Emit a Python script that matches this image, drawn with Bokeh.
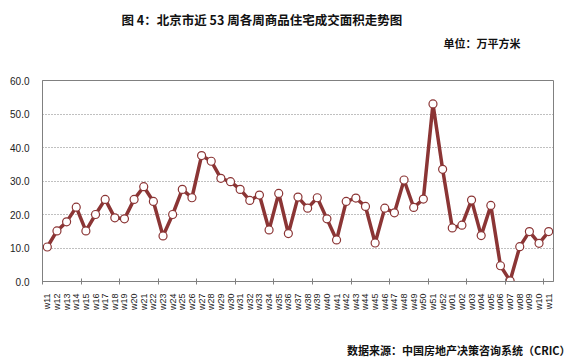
import math
from bokeh.plotting import figure
from bokeh.models import FixedTicker, Title, ColumnDataSource, Range1d, NumeralTickFormatter
from bokeh.embed import file_html
from bokeh.resources import INLINE

weeks = ["w11", "w12", "w13", "w14", "w15", "w16", "w17", "w18", "w19", "w20",
         "w21", "w22", "w23", "w24", "w25", "w26", "w27", "w28", "w29", "w30",
         "w31", "w32", "w33", "w34", "w35", "w36", "w37", "w38", "w39", "w40",
         "w41", "w42", "w43", "w44", "w45", "w46", "w47", "w48", "w49", "w50",
         "w51", "w52", "w01", "w02", "w03", "w04", "w05", "w06", "w07", "w08",
         "w09", "w10", "w11"]
area = [10.3, 15.1, 17.8, 22.2, 15.1, 20.0, 24.5, 19.0, 18.7, 24.5,
        28.3, 23.9, 13.6, 20.0, 27.5, 25.0, 37.6, 35.9, 30.8, 29.8,
        27.5, 24.2, 25.8, 15.4, 26.3, 14.3, 25.2, 21.9, 25.0, 18.7,
        12.4, 23.9, 24.9, 22.4, 11.5, 21.9, 20.5, 30.3, 22.1, 24.6,
        53.0, 33.5, 16.0, 16.8, 24.3, 13.7, 22.7, 4.7, 0.2, 10.4,
        14.9, 11.4, 14.9]
y_ticks = [0, 10, 20, 30, 40, 50, 60]

idx = list(range(len(weeks)))
src = ColumnDataSource(dict(x=idx, y=area))

font = "Noto Sans CJK SC"
p = figure(width=570, height=364, output_backend="svg", toolbar_location=None,
           x_range=Range1d(-0.5, len(weeks) - 0.5), y_range=Range1d(0, 60),
           min_border_left=42, min_border_right=17, min_border_top=0, min_border_bottom=0)
p.title.text = "图 4：北京市近 53 周各周商品住宅成交面积走势图"
p.title.align = "left"
p.title.offset = 79
p.title.standoff = 14
p.title.text_font = font
p.title.text_font_size = "12.5px"
p.title.text_font_style = "bold"
p.title.text_color = "#111111"

# spacer between frame and unit text (nearest the frame)
p.add_layout(Title(text=" ", standoff=27, text_font=font, text_font_size="2px"), "above")
p.add_layout(Title(text="单位：万平方米", align="right", offset=33,
                   standoff=-5, text_font=font, text_font_size="11px", text_font_style="bold",
                   text_color="#111111"), "above")
# spacer between x axis labels and source note
p.add_layout(Title(text=" ", standoff=14, text_font=font, text_font_size="2px"), "below")
p.add_layout(Title(text="数据来源：中国房地产决策咨询系统（CRIC）", align="right", offset=-17,
                   standoff=14, text_font=font, text_font_size="11px", text_font_style="bold",
                   text_color="#111111"), "below")

p.background_fill_color = "white"
p.border_fill_color = "white"
p.outline_line_color = "#808080"
p.outline_line_width = 1

xa = p.xaxis[0]
xa.ticker = FixedTicker(ticks=idx, minor_ticks=[i - 0.5 for i in range(0, len(weeks) + 1, 4)])
xa.major_label_overrides = {i: w for i, w in enumerate(weeks)}
xa.major_label_orientation = math.pi / 2
xa.major_tick_line_color = None
xa.major_tick_out = 0
xa.major_tick_in = 0
xa.minor_tick_line_color = "#808080"
xa.minor_tick_in = 3
xa.minor_tick_out = 3
xa.axis_line_color = "#808080"
xa.major_label_standoff = 9
xa.major_label_text_font = "Liberation Sans"
xa.major_label_text_font_size = "9px"
xa.major_label_text_color = "#222222"

ya = p.yaxis[0]
ya.ticker = FixedTicker(ticks=y_ticks)
ya.formatter = NumeralTickFormatter(format="0.0")
ya.major_tick_line_color = None
ya.minor_tick_line_color = None
ya.major_tick_out = 0
ya.major_tick_in = 0
ya.axis_line_color = "#808080"
ya.major_label_standoff = 13
ya.major_label_text_font = "Liberation Sans"
ya.major_label_text_font_size = "10px"
ya.major_label_text_color = "#222222"

p.xgrid.grid_line_color = None
p.ygrid.grid_line_color = "#808080"
p.ygrid.grid_line_dash = "1 2"
p.ygrid.grid_line_width = 1

p.line("x", "y", source=src, line_color="#8B3535", line_width=3.5)
p.scatter("x", "y", source=src, size=8, fill_color="white", line_color="#8B3535", line_width=1.2)

open("out.html", "w").write(file_html(p, INLINE))
